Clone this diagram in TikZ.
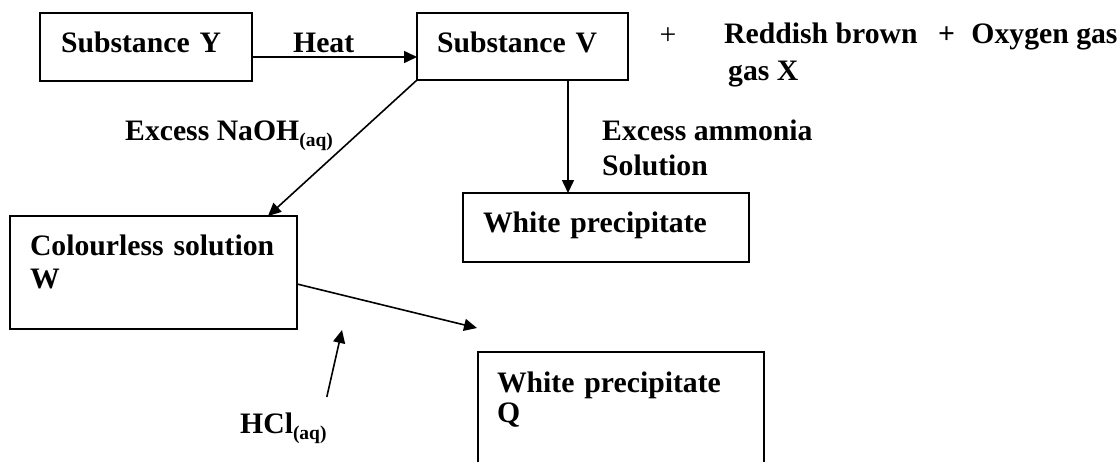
\documentclass[tikz,border=0pt]{standalone}
\usepackage{fontspec}
\setmainfont{Liberation Serif}
\usetikzlibrary{arrows.meta}
\newcommand\fs[1]{\fontsize{29.7pt}{#1}\selectfont\bfseries}
\newcommand\chemsub[1]{\raisebox{-6pt}{\fontsize{19.5pt}{20pt}\selectfont #1}}
\begin{document}
\begin{tikzpicture}[x=1pt,y=-1pt,
  txt/.style={font=\fs{33pt}, inner sep=0pt, align=left},
  box/.style={draw, line width=2pt, outer sep=0pt, anchor=north west,
              font=\fs{33pt}, align=left, inner ysep=0pt},
  arr/.style={line width=1.6pt, -{Triangle[length=13pt,width=12pt]}}]
\useasboundingbox (0,0) rectangle (1118,461);
\clip (0,0) rectangle (1118,461);

% boxes
\node[box, inner xsep=21pt, text width=170pt, text height=39pt, text depth=29pt] (Y) at (40,13) {Substance Y};
\node[box, inner xsep=20pt, text width=171pt, text height=39pt, text depth=28pt] (V) at (417,13) {Substance V};
\node[box, inner xsep=20pt, text width=246pt, text height=39pt, text depth=30pt] (P) at (463,193) {White precipitate};
\node[box, inner xsep=20pt, text width=247pt, text height=39pt, text depth=74pt] (W) at (10,216) {Colourless solution\\W};
\node[box, inner xsep=19pt, text width=248pt, text height=40pt, text depth=88pt, font=\fs{30pt}] (Q) at (478,352) {White precipitate\\Q};

% labels (multi-line labels are anchored at the baseline of their last line)
\node[txt, anchor=base west] (heat) at (293,52) {Heat};
\node[font=\fontsize{29.7pt}{33pt}\selectfont, inner sep=0pt, anchor=base] (plus) at (668,44) {+};
\node[txt, anchor=base west, font=\fs{37pt}] (prod) at (724,80) {Reddish brown\hspace{20.5pt}+\hspace{16.5pt}Oxygen gas\\\hspace*{4pt}gas X};
\node[txt, anchor=base west] (naoh) at (125,140) {Excess NaOH\chemsub{(aq)}};
\node[txt, anchor=base west, font=\fs{35pt}] (nh3) at (602,175) {Excess ammonia\\Solution};
\node[txt, anchor=base west] (hcl) at (240,433) {HCl\chemsub{(aq)}};
\coordinate (hcltip) at (342,330);

% connectors
\draw[arr] ([yshift=-5pt]Y.base east) -- ([yshift=-5pt]V.base west);
\draw[arr] (V.south west) -- ([xshift=-29pt]W.north east);
\draw[arr] ([xshift=45.5pt]V.south) -- ([xshift=45.5pt]V.south |- P.north);
\draw[arr] ([yshift=-11.5pt]W.east) -- ([xshift=-1pt,yshift=24pt]Q.north west);
\draw[arr] ([yshift=36pt]hcl.base east) -- (hcltip);
\end{tikzpicture}
\end{document}
